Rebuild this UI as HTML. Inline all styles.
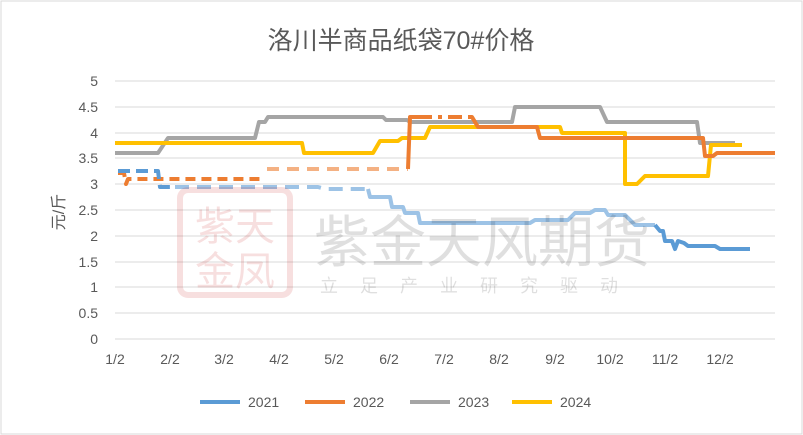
<!DOCTYPE html>
<html><head><meta charset="utf-8"><style>
body{margin:0;background:#fff}
svg{display:block;font-family:"Liberation Sans","Noto Sans CJK SC",sans-serif}
</style></head><body>
<svg width="803" height="435" viewBox="0 0 803 435">
<rect x="1" y="1" width="801" height="433" fill="#fff" stroke="#d9d9d9"/>
<text x="401" y="49" font-size="25" text-anchor="middle" fill="#595959">洛川半商品纸袋70#价格</text>
<g stroke="#d9d9d9" stroke-width="1">
<line x1="115" x2="775" y1="81" y2="81"/><line x1="115" x2="775" y1="107" y2="107"/>
<line x1="115" x2="775" y1="133" y2="133"/><line x1="115" x2="775" y1="158" y2="158"/>
<line x1="115" x2="775" y1="184" y2="184"/><line x1="115" x2="775" y1="210" y2="210"/>
<line x1="115" x2="775" y1="236" y2="236"/><line x1="115" x2="775" y1="262" y2="262"/>
<line x1="115" x2="775" y1="287" y2="287"/><line x1="115" x2="775" y1="313" y2="313"/>
<line x1="115" x2="775" y1="339" y2="339"/>
</g>
<g font-size="14" fill="#595959" text-anchor="end">
<text x="98" y="86">5</text><text x="98" y="112">4.5</text><text x="98" y="138">4</text>
<text x="98" y="163">3.5</text><text x="98" y="189">3</text><text x="98" y="215">2.5</text>
<text x="98" y="241">2</text><text x="98" y="267">1.5</text><text x="98" y="292">1</text>
<text x="98" y="318">0.5</text><text x="98" y="344">0</text>
</g>
<g font-size="14" fill="#595959" text-anchor="middle">
<text x="115" y="364">1/2</text><text x="170" y="364">2/2</text><text x="224" y="364">3/2</text>
<text x="279" y="364">4/2</text><text x="334" y="364">5/2</text><text x="389" y="364">6/2</text>
<text x="444" y="364">7/2</text><text x="499" y="364">8/2</text><text x="555" y="364">9/2</text>
<text x="610" y="364">10/2</text><text x="665" y="364">11/2</text><text x="720" y="364">12/2</text>
</g>
<text transform="translate(64,212) rotate(-90)" font-size="16" fill="#595959" text-anchor="middle">元/斤</text>
<g fill="none" stroke-width="4" stroke-linejoin="round">
<polyline stroke="#a5a5a5" points="115,153 158,153 168,138 255,138 259,122 265,122 268,117 383,117 386,120 407,120 410,122 512,122 515,107 600,107 607,122 697,122 700,143 735,143"/>
<polyline stroke="#ffc000" points="115,143 302,143 304,153 373,153 380,141 398,141 402,138 425,138 430,127 560,127 562,133 625,133 625,184 637,184 645,176 708,176 711,145 742,145"/>
<polyline stroke="#ed7d31" stroke-dasharray="10,6" points="118,173 124,173 126,184 128,179 260,179"/>
<polyline stroke="#f4b183" stroke-dasharray="12,8" points="267,169 408,169"/>
<polyline stroke="#ed7d31" points="408,169 410,117 418,117"/>
<polyline stroke="#ed7d31" stroke-dasharray="14,6,4,6" points="418,117 470,117"/>
<polyline stroke="#ed7d31" points="470,117 472,117 478,127 537,127 540,138 703,138 705,156 713,156 717,153 775,153"/>
<polyline stroke="#5b9bd5" stroke-dasharray="12,6" points="118,171 158,171 160,187 175,187"/>
<polyline stroke="#9dc3e6" stroke-dasharray="14,8" points="175,187 318,187 325,189 368,189"/>
<polyline stroke="#9dc3e6" points="368,189 370,197 390,197 392,207 403,207 405,213 418,213 420,223 530,223 535,220 568,220 575,213 590,213 595,210 605,210 608,215 625,215 635,225 655,225"/>
<polyline stroke="#5b9bd5" points="655,225 660,231 663,231 665,241 672,241 675,249 678,241 684,243 688,246 715,246 720,249 750,249"/>
</g>
<g opacity="0.12">
<rect x="180" y="190" width="110" height="105" rx="8" fill="none" stroke="#c00000" stroke-width="6"/>
<text x="235" y="240" font-size="40" fill="#c00000" text-anchor="middle" font-family="Noto Sans CJK SC,sans-serif">紫天</text>
<text x="235" y="285" font-size="40" fill="#c00000" text-anchor="middle" font-family="Noto Sans CJK SC,sans-serif">金凤</text>
<text x="482" y="262" font-size="56" fill="#000" text-anchor="middle" font-family="Noto Sans CJK SC,sans-serif">紫金天风期货</text>
<text x="480" y="292" font-size="18" fill="#000" text-anchor="middle" letter-spacing="22" font-family="Noto Sans CJK SC,sans-serif">立足产业研究驱动</text>
</g>
<g font-size="14" fill="#595959">
<line x1="200" x2="240" y1="402" y2="402" stroke="#5b9bd5" stroke-width="4"/><text x="248" y="407">2021</text>
<line x1="305" x2="345" y1="402" y2="402" stroke="#ed7d31" stroke-width="4"/><text x="353" y="407">2022</text>
<line x1="410" x2="450" y1="402" y2="402" stroke="#a5a5a5" stroke-width="4"/><text x="458" y="407">2023</text>
<line x1="512" x2="552" y1="402" y2="402" stroke="#ffc000" stroke-width="4"/><text x="560" y="407">2024</text>
</g>
</svg>
</body></html>
